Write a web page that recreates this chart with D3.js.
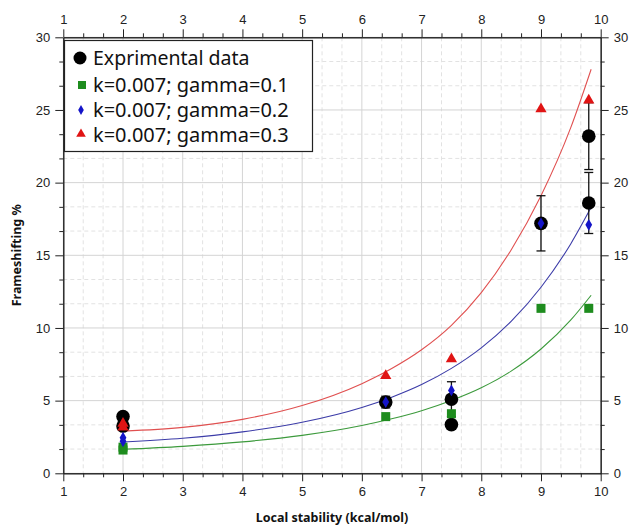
<!DOCTYPE html>
<html>
<head>
<meta charset="utf-8">
<script src="https://cdn.jsdelivr.net/npm/d3@7"></script>
<style>
  body { margin: 0; background: #fff; }
  svg { font-family: "Noto Sans", "Open Sans", sans-serif; }
  .tick text { fill: #222; font-size: 13px; }
  .axis path, .axis line { stroke: #222; }
</style>
</head>
<body>
<div id="chart"></div>
<script>
// experimental data with error bars
var expX   = [2.0, 2.0, 6.4, 7.5, 7.5, 9.0, 9.8, 9.8];
var expY   = [3.9, 3.25, 4.9, 5.1, 3.35, 17.2, 23.2, 18.6];
var expErr = [0.15, 0.15, 0.4, 1.2, 0.15, 1.9, 2.3, 2.1];

// model points, same x as experiments
var modelX     = [2.0, 2.0, 6.4, 7.5, 9.0, 9.8];
var gamma01Y   = [1.8, 1.6, 3.9, 4.1, 11.35, 11.35];
var gamma02Y   = [2.45, 2.2, 4.9, 5.7, 17.2, 17.1];
var gamma03Y   = [3.35, 3.1, 6.65, 7.8, 25.0, 25.6];

// fitted curves
var curveX   = [2, 3, 4, 5, 6, 6.5, 7, 7.5, 8, 8.5, 9, 9.5, 9.84];
var curve01Y = [1.65, 1.855, 2.16, 2.61, 3.29, 3.75, 4.31, 5.01, 5.88, 7.03, 8.55, 10.55, 12.25];
var curve02Y = [2.15, 2.41, 2.85, 3.51, 4.53, 5.24, 6.11, 7.22, 8.63, 10.45, 12.8, 15.8, 18.3];
var curve03Y = [2.9, 3.16, 3.71, 4.66, 6.17, 7.21, 8.5, 10.18, 12.43, 15.37, 19.1, 23.8, 27.8];

var legendLabels = ['Exprimental data', 'k=0.007; gamma=0.1', 'k=0.007; gamma=0.2', 'k=0.007; gamma=0.3'];
var xTicks = [1, 2, 3, 4, 5, 6, 7, 8, 9, 10];
var yTicks = [0, 5, 10, 15, 20, 25, 30];

var width = 641, height = 530;
var pLeft = 63.3, pRight = 600.7, pTop = 37.3, pBottom = 473.3;

var svg = d3.select('#chart').append('svg')
    .attr('width', width)
    .attr('height', height);

var x = d3.scaleLinear().domain([1, 10]).range([pLeft, pRight]);
var y = d3.scaleLinear().domain([0, 30]).range([pBottom, pTop]);

var xMinor = d3.range(1, 10.01, 1 / 3).filter(function (v) { return Math.abs(v - Math.round(v)) > 0.01; });
var yMinor = d3.range(0, 30.01, 5 / 3).filter(function (v) { return Math.abs(v / 5 - Math.round(v / 5)) > 0.01; });

// grid
var grid = svg.append('g');
grid.selectAll('.gxm').data(xMinor).enter().append('line')
    .attr('x1', function (d) { return x(d); }).attr('x2', function (d) { return x(d); })
    .attr('y1', pTop).attr('y2', pBottom)
    .attr('stroke', '#e2e2e2').attr('stroke-dasharray', '4,3');
grid.selectAll('.gym').data(yMinor).enter().append('line')
    .attr('y1', function (d) { return y(d); }).attr('y2', function (d) { return y(d); })
    .attr('x1', pLeft).attr('x2', pRight)
    .attr('stroke', '#e2e2e2').attr('stroke-dasharray', '4,3');
grid.selectAll('.gx').data(xTicks).enter().append('line')
    .attr('x1', function (d) { return x(d); }).attr('x2', function (d) { return x(d); })
    .attr('y1', pTop).attr('y2', pBottom)
    .attr('stroke', '#d4d4d4');
grid.selectAll('.gy').data(yTicks).enter().append('line')
    .attr('y1', function (d) { return y(d); }).attr('y2', function (d) { return y(d); })
    .attr('x1', pLeft).attr('x2', pRight)
    .attr('stroke', '#d4d4d4');

// axes (major + minor on all four sides)
function addAxis(gen, tr, vals, size, labels) {
    return svg.append('g').attr('class', 'axis').attr('transform', tr)
        .call(gen.tickValues(vals).tickSize(size).tickSizeOuter(0).tickPadding(5)
            .tickFormat(labels ? d3.format('d') : ''));
}
addAxis(d3.axisBottom(x), 'translate(0,' + pBottom + ')', xTicks, 8, true);
addAxis(d3.axisBottom(x), 'translate(0,' + pBottom + ')', xMinor, 4, false);
addAxis(d3.axisTop(x), 'translate(0,' + pTop + ')', xTicks, 8, true);
addAxis(d3.axisTop(x), 'translate(0,' + pTop + ')', xMinor, 4, false);
addAxis(d3.axisLeft(y), 'translate(' + pLeft + ',0)', yTicks, 8, true);
addAxis(d3.axisLeft(y), 'translate(' + pLeft + ',0)', yMinor, 4, false);
addAxis(d3.axisRight(y), 'translate(' + pRight + ',0)', yTicks, 8, true);
addAxis(d3.axisRight(y), 'translate(' + pRight + ',0)', yMinor, 4, false);

// axis titles
svg.append('text')
    .attr('x', (pLeft + pRight) / 2).attr('y', 522)
    .attr('text-anchor', 'middle')
    .style('font-size', '12.5px').style('font-weight', 'bold').style('fill', '#111')
    .text('Local stability (kcal/mol)');
svg.append('text')
    .attr('transform', 'translate(21,' + ((pTop + pBottom) / 2) + ') rotate(-90)')
    .attr('text-anchor', 'middle')
    .style('font-size', '12.5px').style('font-weight', 'bold').style('fill', '#111')
    .text('Frameshifting %');

// curves
var line = d3.line()
    .x(function (d) { return x(d[0]); })
    .y(function (d) { return y(d[1]); })
    .curve(d3.curveMonotoneX);
var curves = [
    { ys: curve01Y, color: '#3c9a3c' },
    { ys: curve02Y, color: '#3c3ca8' },
    { ys: curve03Y, color: '#e05050' }
];
curves.forEach(function (c) {
    svg.append('path')
        .datum(curveX.map(function (v, i) { return [v, c.ys[i]]; }))
        .attr('d', line)
        .attr('fill', 'none')
        .attr('stroke', c.color)
        .attr('stroke-width', 1.1);
});

// experimental points with error bars
var exp = expX.map(function (v, i) { return { x: v, y: expY[i], e: expErr[i] }; });
var eb = svg.append('g').attr('stroke', '#111').attr('stroke-width', 1.3);
eb.selectAll('line.v').data(exp).enter().append('line')
    .attr('x1', function (d) { return x(d.x); }).attr('x2', function (d) { return x(d.x); })
    .attr('y1', function (d) { return y(d.y - d.e); }).attr('y2', function (d) { return y(d.y + d.e); });
[-1, 1].forEach(function (s) {
    eb.selectAll(null).data(exp).enter().append('line')
        .attr('x1', function (d) { return x(d.x) - 4.5; }).attr('x2', function (d) { return x(d.x) + 4.5; })
        .attr('y1', function (d) { return y(d.y + s * d.e); }).attr('y2', function (d) { return y(d.y + s * d.e); });
});
svg.selectAll('circle.exp').data(exp).enter().append('circle')
    .attr('cx', function (d) { return x(d.x); })
    .attr('cy', function (d) { return y(d.y); })
    .attr('r', 6.8)
    .attr('fill', '#000');

// model markers
var green = '#1e8c1e', blue = '#1414c8', red = '#e01414';
svg.selectAll('rect.g').data(modelX.map(function (v, i) { return [v, gamma01Y[i]]; })).enter().append('rect')
    .attr('x', function (d) { return x(d[0]) - 4.5; })
    .attr('y', function (d) { return y(d[1]) - 4.5; })
    .attr('width', 9).attr('height', 9)
    .attr('fill', green);
var diamond = d3.symbol().type(d3.symbolDiamond).size(40);
svg.selectAll('path.b').data(modelX.map(function (v, i) { return [v, gamma02Y[i]]; })).enter().append('path')
    .attr('d', diamond)
    .attr('transform', function (d) { return 'translate(' + x(d[0]) + ',' + y(d[1]) + ')'; })
    .attr('fill', blue);
var tri = d3.symbol().type(d3.symbolTriangle).size(55);
svg.selectAll('path.r').data(modelX.map(function (v, i) { return [v, gamma03Y[i]]; })).enter().append('path')
    .attr('d', tri)
    .attr('transform', function (d) { return 'translate(' + x(d[0]) + ',' + (y(d[1]) - 1) + ')'; })
    .attr('fill', red);

// legend
var lg = svg.append('g');
lg.append('rect')
    .attr('x', 64.5).attr('y', 40.5).attr('width', 248).attr('height', 111)
    .attr('fill', '#fff').attr('stroke', '#222').attr('stroke-width', 1.2);
var rowsY = [58, 85, 110, 135];
lg.append('circle').attr('cx', 80).attr('cy', rowsY[0]).attr('r', 6.5).attr('fill', '#000');
lg.append('rect').attr('x', 78).attr('y', rowsY[1] - 4).attr('width', 8).attr('height', 8).attr('fill', green);
lg.append('path').attr('d', d3.symbol().type(d3.symbolDiamond).size(28)())
    .attr('transform', 'translate(81,' + rowsY[2] + ')').attr('fill', blue);
lg.append('path').attr('d', d3.symbol().type(d3.symbolTriangle).size(40)())
    .attr('transform', 'translate(81,' + (rowsY[3] - 1) + ')').attr('fill', red);
lg.selectAll('text').data(legendLabels).enter().append('text')
    .attr('x', 93)
    .attr('y', function (d, i) { return rowsY[i]; })
    .attr('dy', '0.35em')
    .style('font-size', function (d, i) { return i === 0 ? '19.5px' : '20px'; })
    .style('fill', '#111')
    .text(function (d) { return d; });
</script>
</body>
</html>
